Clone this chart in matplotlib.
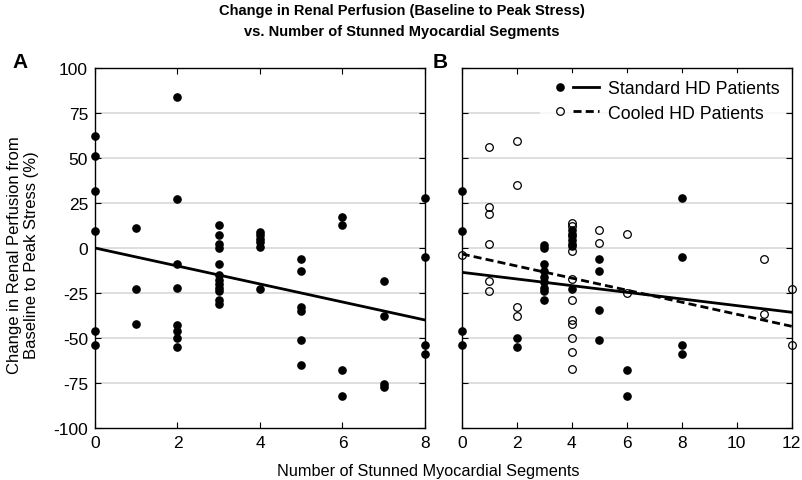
import numpy as np
import matplotlib.pyplot as plt
from matplotlib.lines import Line2D
from matplotlib.legend_handler import HandlerTuple

plt.rcParams['font.family'] = ['Liberation Sans', 'DejaVu Sans']
plt.rcParams['font.size'] = 10
plt.rcParams['axes.unicode_minus'] = False

# panel A: all patients (segments, change %)
a_x = [0, 0, 0, 0, 0, 0,
       1, 1, 1,
       2, 2, 2, 2, 2, 2, 2, 2,
       3, 3, 3, 3, 3, 3, 3, 3, 3, 3, 3, 3,
       4, 4, 4, 4, 4, 4,
       5, 5, 5, 5, 5, 5,
       6, 6, 6, 6,
       7, 7, 7, 7,
       8, 8, 8, 8]
a_y = [62, 51, 31.5, 9.5, -46, -54,
       11, -23, -42,
       84, 27, -9, -22, -43, -46, -50, -55,
       13, 7, 2, 0, -9, -15, -18, -20, -22, -24, -29, -31,
       9, 7, 5, 3.5, 0.5, -23,
       -6, -13, -33, -35, -51, -65,
       17, 13, -68, -82,
       -18.5, -37.5, -75.5, -77,
       28, -5, -54, -59]
a_fit = (0, -5.0)  # intercept, slope

# panel B: standard HD patients
std_x = [0, 0, 0, 0,
         2, 2,
         3, 3, 3, 3, 3, 3, 3, 3, 3,
         4, 4, 4, 4, 4, 4, 4,
         5, 5, 5, 5,
         6, 6,
         8, 8, 8, 8]
std_y = [31.5, 9.5, -46, -54,
         -50, -55,
         1.5, 0, -9, -13, -16, -19, -22, -24, -29,
         10, 8, 6.5, 4.5, 2.5, 1, -23,
         -6, -13, -34.5, -51,
         -68, -82,
         28, -5, -54, -59]
std_fit = (-13.5, -1.85)

# panel B: cooled HD patients
cool_x = [0,
          1, 1, 1, 1, 1, 1,
          2, 2, 2, 2,
          4, 4, 4, 4, 4, 4, 4, 4, 4, 4,
          5, 5,
          6, 6,
          11, 11,
          12, 12]
cool_y = [-4,
          56, 23, 19, 2, -18.5, -24,
          59.5, 35, -33, -37.5,
          14, 12, -1.5, -17, -29, -40, -42, -50, -58, -67,
          10, 3,
          8, -25,
          -6, -36.5,
          -23, -54]
cool_fit = (-3.3, -3.35)

yticks = [-100, -75, -50, -25, 0, 25, 50, 75, 100]

fig = plt.figure(figsize=(8.03, 4.81), dpi=100)
axA = fig.add_axes([95 / 803, 1 - 429 / 481, 330 / 803, 360 / 481])
axB = fig.add_axes([461.7 / 803, 1 - 429 / 481, 330 / 803, 360 / 481])


def style(ax, xmax, xstep):
    ax.set_xlim(0, xmax)
    ax.set_ylim(-100, 100)
    ax.set_xticks(np.arange(0, xmax + 1, xstep))
    ax.set_yticks(yticks)
    for y in yticks[1:-1]:
        ax.axhline(y, color='#d4d4d4', lw=1.1, zorder=0)
    ax.tick_params(direction='in', top=True, right=True, length=4, width=0.8,
                   labelsize=12.5, pad=5)
    for s in ax.spines.values():
        s.set_linewidth(1.0)


style(axA, 8, 2)
style(axB, 12, 2)
axB.tick_params(labelleft=False)

axA.plot(a_x, a_y, 'o', color='black', ms=5.2, clip_on=False, zorder=3)
xs = np.array([0, 8])
axA.plot(xs, a_fit[0] + a_fit[1] * xs, color='black', lw=2, zorder=2)

xs = np.array([0, 12])
axB.plot(std_x, std_y, 'o', color='black', ms=5.2, clip_on=False, zorder=3)
axB.plot(cool_x, cool_y, 'o', mfc='none', mec='black', mew=0.9, ms=5.5,
         clip_on=False, zorder=3)
axB.plot(xs, std_fit[0] + std_fit[1] * xs, color='black', lw=2, zorder=2)
axB.plot(xs, cool_fit[0] + cool_fit[1] * xs, color='black', lw=2,
         dashes=(2.9, 1.5), zorder=2)

h1 = (Line2D([], [], ls='none', marker='o', color='black', ms=5.2),
      Line2D([], [], color='black', lw=2))
h2 = (Line2D([], [], ls='none', marker='o', mfc='none', mec='black', mew=0.9, ms=5.5),
      Line2D([], [], color='black', lw=2, dashes=(2.9, 1.5)))
leg = axB.legend([h1, h2], ['Standard HD Patients', 'Cooled HD Patients'],
                 handler_map={tuple: HandlerTuple(ndivide=None, pad=0.0)},
                 loc='upper right', bbox_to_anchor=(0.995, 0.995), handlelength=2.9,
                 handletextpad=0.5, labelspacing=0.4, fontsize=12.8,
                 frameon=True, fancybox=False, borderaxespad=0.2)
leg.get_frame().set_edgecolor('white')
leg.get_frame().set_linewidth(0)

fig.text(0.5, 1 - 11 / 481, 'Change in Renal Perfusion (Baseline to Peak Stress)',
         ha='center', va='center', fontsize=10.5, fontweight='bold')
fig.text(0.5, 1 - 32 / 481, 'vs. Number of Stunned Myocardial Segments',
         ha='center', va='center', fontsize=10.5, fontweight='bold')
fig.text(20 / 803, 1 - 63 / 481, 'A', ha='center', va='center', fontsize=15,
         fontweight='bold')
fig.text(440 / 803, 1 - 63 / 481, 'B', ha='center', va='center', fontsize=15,
         fontweight='bold')
fig.text(428 / 803, 1 - 472 / 481, 'Number of Stunned Myocardial Segments',
         ha='center', va='center', fontsize=11.7)
fig.text(23 / 803, 1 - 255 / 481,
         'Change in Renal Perfusion from\nBaseline to Peak Stress (%)',
         ha='center', va='center', rotation=90, fontsize=12, linespacing=1.2)

fig.savefig('out.png', dpi=100)
